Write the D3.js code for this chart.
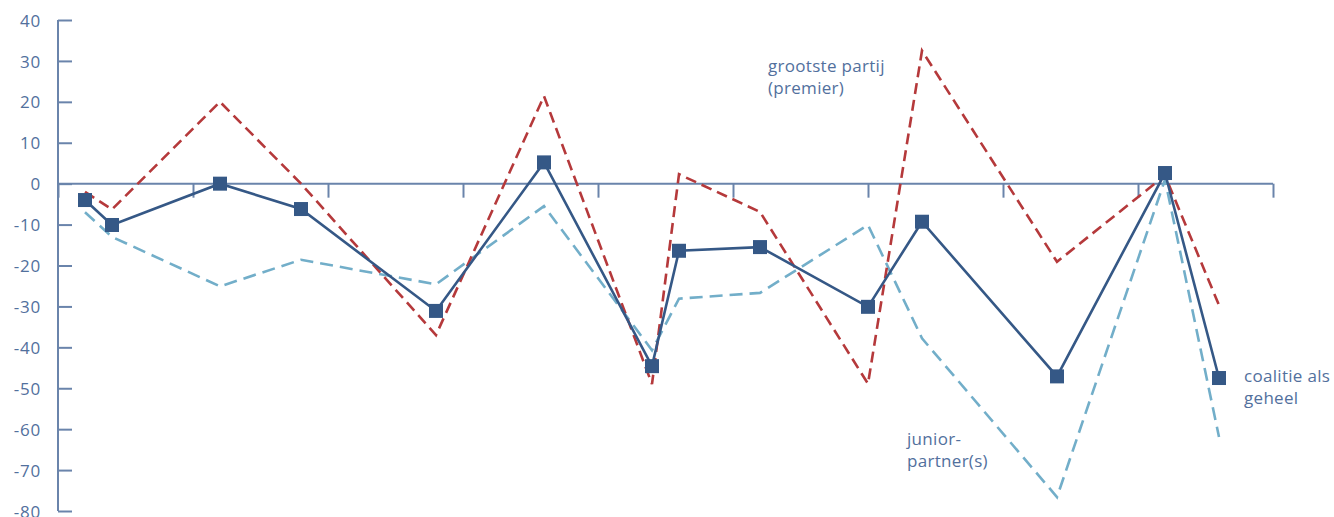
<!DOCTYPE html>
<html><head><meta charset="utf-8">
<script src="https://cdn.jsdelivr.net/npm/d3@7"></script>
<style>
html,body{margin:0;padding:0;background:#fff;}
svg{display:block;}
text{font-family:"Open Sans","Lato",sans-serif;}
</style></head>
<body><svg id="c" width="1334" height="517"></svg>
<script>
const years = [1981,1982,1986,1989,1994,1998,2002,2003,2006,2010,2012,2017,2021,2023];
const coalitie = [-4.0,-10.1,0,-6.2,-31.1,5.2,-44.6,-16.4,-15.5,-30.1,-9.3,-47.1,2.6,-47.5];
const grootstePartij = [-2,-6.3,20,0,-37,21.4,-49,2.3,-6.9,-48.9,32.5,-19.1,2,-29.7];
const juniorPartners = [-7,-13,-25.1,-18.6,-24.6,-5.5,-40.7,-28.1,-26.7,-10.1,-37.8,-76.6,1,-61.9];
const yTicks = [40,30,20,10,0,-10,-20,-30,-40,-50,-60,-70,-80];
const xTicks = [1980,1985,1990,1995,2000,2005,2010,2015,2020,2025];

const svg = d3.select("#c");
const x = d3.scaleLinear().domain([1980,2025]).range([58,1273]);
const y = d3.scaleLinear().domain([-80,40]).range([511,20]);
const axisColor = "#6a84ab", textColor = "#52709d";

// y axis
const gy = svg.append("g").attr("transform","translate(58,0)")
  .call(d3.axisRight(y).tickValues(yTicks).tickSize(14).tickFormat(d=>String(d)));
gy.select(".domain").attr("stroke",axisColor).attr("stroke-width",2).attr("d","M0,"+y(40)+"V"+y(-80));
gy.selectAll(".tick line").attr("stroke",axisColor).attr("stroke-width",2);
gy.selectAll(".tick text").attr("x",-17).attr("text-anchor","end").attr("dy","0.36em")
  .attr("fill",textColor).style("font-size","17px").style("letter-spacing","0.8px");

// x axis at 0
const gx = svg.append("g").attr("transform","translate(0,"+y(0)+")")
  .call(d3.axisBottom(x).tickValues(xTicks).tickSize(14).tickFormat(""));
gx.select(".domain").attr("stroke",axisColor).attr("stroke-width",2).attr("d","M"+x(1980)+",0H"+x(2025));
gx.selectAll(".tick line").attr("stroke",axisColor).attr("stroke-width",2);

function lineOf(vals){
  return d3.line().x((d,i)=>x(years[i])).y(d=>y(d))(vals);
}
svg.append("path").attr("d",lineOf(juniorPartners)).attr("fill","none")
  .attr("stroke","#72aec9").attr("stroke-width",2.6).attr("stroke-dasharray","13,7");
svg.append("path").attr("d",lineOf(grootstePartij)).attr("fill","none")
  .attr("stroke","#b5393b").attr("stroke-width",2.6).attr("stroke-dasharray","11,6");
svg.append("path").attr("d",lineOf(coalitie)).attr("fill","none")
  .attr("stroke","#355886").attr("stroke-width",2.6);
svg.selectAll("rect.m").data(coalitie).enter().append("rect").attr("class","m")
  .attr("x",(d,i)=>x(years[i])-7).attr("y",d=>y(d)-7).attr("width",14).attr("height",14)
  .attr("fill","#355886");

function label(lines, px, py){
  const t = svg.append("text").attr("fill",textColor).style("font-size","17px").style("letter-spacing","0.3px");
  lines.forEach((s,i)=>t.append("tspan").attr("x",px).attr("y",py+i*21.5).text(s));
}
label(["grootste partij","(premier)"],768,72);
label(["coalitie als","geheel"],1244,382);
label(["junior-","partner(s)"],907,445);
</script></body></html>
